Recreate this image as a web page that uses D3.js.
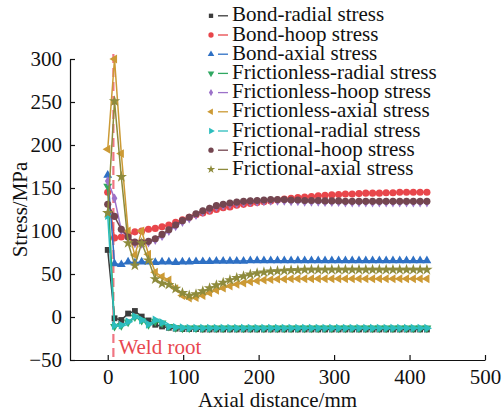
<!DOCTYPE html>
<html>
<head>
<meta charset="utf-8">
<script src="https://cdn.jsdelivr.net/npm/d3@7"></script>
<style>
  body { margin: 0; background: #fff; }
  text { font-family: "Liberation Serif", "Times New Roman", serif; }
</style>
</head>
<body>
<div id="stress-chart"></div>
<script>
// axial positions (mm)
const axialDistance = [
  0, 9, 18, 27, 36, 45, 54, 63, 72, 81, 90, 99,
  108, 117, 126, 135, 144, 153, 162, 171, 180, 189, 198, 207,
  216, 225, 234, 243, 252, 261, 270, 279, 288, 297, 306, 315,
  324, 333, 342, 351, 360, 369, 378, 387, 396, 405, 414, 423
]

const bondRadial = [
  78, -1.5, -3.5, 4, 7, 0.5, -4, -9, -11, -12.5, -13.5, -14,
  -14, -14, -14.5, -14.5, -14.5, -14.5, -14.5, -14.5, -14.5, -14.5, -14.5, -14.5,
  -14.5, -14.5, -14.5, -14.5, -14.5, -14.5, -14.5, -14.5, -14.5, -14.5, -14.5, -14.5,
  -14.5, -14.5, -14.5, -14.5, -14.5, -14.5, -14.5, -14.5, -14.5, -14.5, -14.5, -14.5
]
const bondHoop = [
  145, 92, 93, 96, 99, 100, 102, 103, 105, 107, 110, 113,
  116, 119, 121, 123, 125, 127, 128, 130, 131, 132, 133, 134,
  135, 136, 137, 138, 139, 139.5, 140, 141, 141.5, 142, 142.5, 143,
  143, 143.5, 144, 144, 144, 144.5, 144.5, 145, 145, 145, 145, 145
]
const bondAxial = [
  165, 62, 61, 64, 63, 64, 64, 63.5, 64, 64, 63.5, 64,
  64, 64.5, 64.5, 64.5, 65, 65, 65, 65, 65, 65.5, 65.5, 65.5,
  65.5, 65.5, 65.5, 65.5, 65.5, 65.5, 65.5, 65.5, 65.5, 65.5, 65.5, 65.5,
  65.5, 65.5, 65.5, 65.5, 65.5, 65.5, 65.5, 65.5, 65.5, 65.5, 65.5, 65.5
]
const frictionlessRadial = [
  152, -11, -10, -6, 0, -4, -9, -5, -7, -11, -12.5, -13,
  -13, -13, -13, -13, -13, -13, -13, -13, -13, -13, -13, -13,
  -13, -13, -13, -13, -13, -13, -13, -13, -13, -13, -13, -13,
  -13, -13, -13, -13, -13, -13, -13, -13, -13, -13, -13, -13
]
const frictionlessHoop = [
  158, 138, 101, 92, 85.5, 85, 86.5, 89.5, 94, 100, 105.5, 110.5,
  114.5, 118.5, 122, 125, 128, 129.5, 131, 132, 133, 133.5, 134, 134.5,
  135, 135, 135, 134.5, 134.5, 134, 134, 134, 133.5, 133.5, 133.5, 133,
  133, 133, 133, 133, 133, 133, 133, 133, 133, 133, 133, 133
]
const frictionlessAxial = [
  195, 300, 190, 100, 72, 100, 73, 52, 47, 43, 33, 25,
  22, 22.5, 25, 28, 31, 33.5, 36, 38, 39.5, 41, 42, 43,
  43.5, 44, 44, 44.5, 44.5, 44.5, 44.5, 44.5, 44.5, 44.5, 44.5, 44.5,
  44.5, 44.5, 44.5, 44.5, 44.5, 44.5, 44.5, 44.5, 44.5, 44.5, 44.5, 44.5
]
const frictionalRadial = [
  118, -10, -9.5, -5.5, 0.5, -3.5, -8.5, -3.5, -6.5, -11, -12, -12.5,
  -13, -13, -13, -13, -13, -13, -13, -13, -13, -13, -13, -13,
  -13, -13, -13, -13, -13, -13, -13, -13, -13, -13, -13, -13,
  -13, -13, -13, -13, -13, -13, -13, -13, -13, -13, -13, -13
]
const frictionalHoop = [
  131, 117, 102, 93, 87, 86.5, 88, 91, 96, 101.5, 107, 112,
  116, 120, 123.5, 126.5, 129.5, 131, 132.5, 133.5, 134.5, 135, 135.5, 136,
  136.5, 136.5, 136.5, 136, 136, 135.5, 135.5, 135.5, 135, 135, 135, 134.5,
  134.5, 134.5, 134.5, 134.5, 134.5, 134.5, 134.5, 134.5, 134.5, 134.5, 134.5, 134.5
]
const frictionalAxial = [
  121, 251, 163, 86, 60, 86, 66, 44, 39, 37.5, 33, 28,
  25, 26.5, 30, 33.5, 37, 40, 43, 45.5, 47.5, 49.5, 51, 52,
  53, 53.5, 54, 54.5, 54.5, 55, 55, 55, 55, 55, 55, 55,
  55, 55, 55, 55, 55, 55, 55, 55, 55, 55, 55, 55
]

const seriesNames = [
  "Bond-radial stress", "Bond-hoop stress", "Bond-axial stress",
  "Frictionless-radial stress", "Frictionless-hoop stress", "Frictionless-axial stress",
  "Frictional-radial stress", "Frictional-hoop stress", "Frictional-axial stress"
]
const seriesValues = [
  bondRadial, bondHoop, bondAxial,
  frictionlessRadial, frictionlessHoop, frictionlessAxial,
  frictionalRadial, frictionalHoop, frictionalAxial
]

const xTicks = [0, 100, 200, 300, 400, 500]
const yTicks = [-50, 0, 50, 100, 150, 200, 250, 300]
const weldRoot = 7.5

// styles
const colors = ["#3c3c3c", "#e8464b", "#2e70c4", "#30a862", "#9c72c9", "#cc9a35", "#2cbdbd", "#744650", "#8e8b3c"]
const shapes = [d3.symbolSquare, d3.symbolCircle, d3.symbolTriangle, d3.symbolTriangle, d3.symbolDiamond,
  d3.symbolTriangle, d3.symbolTriangle, d3.symbolCircle, d3.symbolStar]
const rotations = [0, 0, 0, 180, 0, -90, 90, 0, 0]
const sizes = [34, 40, 34, 34, 28, 34, 34, 40, 40]

const width = 504
const height = 419
const plotLeft = 70, plotRight = 485, plotTop = 59, plotBottom = 360
const fontSize = 21

const svg = d3.select("#stress-chart")
  .append("svg")
  .attr("width", width)
  .attr("height", height)

const xScale = d3.scaleLinear().domain([-50, 500]).range([plotLeft, plotRight])
const yScale = d3.scaleLinear().domain([-50, 300]).range([plotBottom, plotTop])

// axes
svg.append("g")
  .attr("transform", `translate(0, ${plotBottom})`)
  .call(d3.axisBottom(xScale).tickValues(xTicks).tickSizeInner(-5).tickSizeOuter(0).tickPadding(9))
svg.append("g")
  .attr("transform", `translate(${plotLeft}, 0)`)
  .call(d3.axisLeft(yScale).tickValues(yTicks).tickSizeInner(-5).tickSizeOuter(0).tickPadding(8)
    .tickFormat(d => d < 0 ? "\u2212" + Math.abs(d) : d))

svg.selectAll(".tick text")
  .attr("font-size", fontSize)
  .attr("font-family", "Liberation Serif, Times New Roman, serif")
  .attr("fill", "#111")
svg.selectAll(".domain, .tick line")
  .attr("stroke", "#111")
  .attr("stroke-width", 1.2)

svg.append("text")
  .attr("x", (xScale(-50) + xScale(500)) / 2)
  .attr("y", 407)
  .attr("text-anchor", "middle")
  .attr("font-size", fontSize)
  .attr("fill", "#111")
  .text("Axial distance/mm")

svg.append("text")
  .attr("transform", `translate(27, ${(plotTop + plotBottom) / 2}) rotate(-90)`)
  .attr("text-anchor", "middle")
  .attr("font-size", fontSize)
  .attr("fill", "#111")
  .text("Stress/MPa")

// weld root marker
svg.append("line")
  .attr("x1", xScale(weldRoot))
  .attr("x2", xScale(weldRoot))
  .attr("y1", yScale(300) - 5)
  .attr("y2", yScale(-50))
  .attr("stroke", "#f07683")
  .attr("stroke-width", 2.2)
  .attr("stroke-dasharray", "9,5")

svg.append("text")
  .attr("x", xScale(weldRoot) + 5)
  .attr("y", 354)
  .attr("font-size", fontSize)
  .attr("fill", "#e8474f")
  .text("Weld root")

// series
const line = d3.line()
  .x((d, i) => xScale(axialDistance[i]))
  .y(d => yScale(d))

seriesValues.forEach((values, s) => {
  svg.append("path")
    .datum(values)
    .attr("fill", "none")
    .attr("stroke", colors[s])
    .attr("stroke-width", 1.5)
    .attr("stroke-linejoin", "round")
    .attr("d", line)

  svg.selectAll(null)
    .data(values)
    .enter()
    .append("path")
    .attr("d", d3.symbol().type(shapes[s]).size(sizes[s]))
    .attr("transform", (d, i) => `translate(${xScale(axialDistance[i])}, ${yScale(d)}) rotate(${rotations[s]})`)
    .attr("fill", colors[s])
})

// legend
const legend = svg.append("g")
seriesNames.forEach((name, s) => {
  const baseline = 21.3 + s * 19.2
  const mid = baseline - 5.5
  legend.append("path")
    .attr("d", d3.symbol().type(shapes[s]).size(sizes[s] * 0.55))
    .attr("transform", `translate(211, ${mid}) rotate(${rotations[s]})`)
    .attr("fill", colors[s])
  legend.append("line")
    .attr("x1", 218)
    .attr("x2", 228)
    .attr("y1", mid)
    .attr("y2", mid)
    .attr("stroke", colors[s])
    .attr("stroke-width", 1.3)
  legend.append("text")
    .attr("x", 232)
    .attr("y", baseline)
    .attr("font-size", fontSize)
    .attr("fill", "#111")
    .text(name)
})
</script>
</body>
</html>
